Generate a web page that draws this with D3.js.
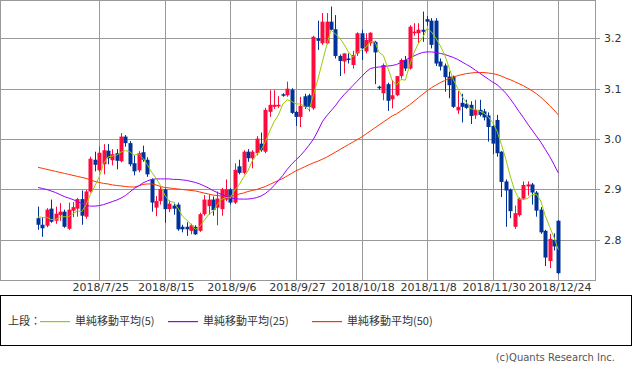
<!DOCTYPE html>
<html>
<head>
<meta charset="utf-8">
<script src="https://cdn.jsdelivr.net/npm/d3@7"></script>
<style>
  body { margin: 0; background: #fff; }
  text { font-family: "DejaVu Sans", "Noto Sans CJK JP", sans-serif; }
</style>
</head>
<body>
<svg id="chart" width="633" height="370"></svg>
<script>
// trading days shown (Jul 5 - Dec 24, 2018)
const julDays = [5,6,9,10,11,12,13,16,17,18,19,20,23,24,25,26,27,30,31];
const augDays = [1,2,3,6,7,8,9,10,13,14,15,16,17,20,21,22,23,24,27,28,29,30,31];
const sepDays = [4,5,6,7,10,11,12,13,14,17,18,19,20,21,24,25,26,27,28];
const octDays = [1,2,3,4,5,8,9,10,11,12,15,16,17,18,19,22,23,24,25,26,29,30,31];
const novDays = [1,2,5,6,7,8,9,12,13,14,15,16,19,20,21,23,26,27,28,29,30];
const decDays = [3,4,6,7,10,11,12,13,14,17,18,19,20,21,24];

const tickLabels = ["2018/7/25","2018/8/15","2018/9/6","2018/9/27","2018/10/18","2018/11/8","2018/11/30","2018/12/24"];
const yTicks = [2.8, 2.9, 3.0, 3.1, 3.2];

const open = [
  2.843,2.830,2.828,2.862,2.838,2.849,2.856,2.822,2.858,2.862,2.881,2.846,2.896,2.959,2.938,2.950,2.977,2.958,2.972,2.956,
  3.005,2.992,2.952,2.938,2.974,2.959,2.920,2.864,2.877,2.900,2.861,2.868,2.870,2.826,2.826,2.818,2.826,2.818,2.851,2.867,
  2.880,2.864,2.861,2.880,2.900,2.874,2.946,2.933,2.975,2.962,2.972,2.991,2.975,3.054,3.064,3.065,3.089,3.087,3.098,3.054,
  3.044,3.085,3.087,3.061,3.200,3.190,3.190,3.233,3.218,3.165,3.154,3.160,3.147,3.170,3.210,3.174,3.190,3.193,3.104,3.091,
  3.109,3.079,3.087,3.125,3.157,3.140,3.210,3.210,3.217,3.238,3.235,3.235,3.154,3.146,3.124,3.124,3.057,3.072,3.070,3.068,
  3.047,3.058,3.055,3.047,3.026,3.038,2.975,2.916,2.900,2.826,2.849,2.882,2.906,2.910,2.894,2.860,2.818,2.758,2.800,2.838];
const high = [
  2.866,2.845,2.863,2.880,2.866,2.873,2.860,2.874,2.875,2.883,2.898,2.899,2.965,2.975,2.985,2.990,2.990,2.980,2.980,3.012,
  3.008,2.996,2.968,2.976,2.987,2.964,2.922,2.887,2.905,2.902,2.878,2.874,2.874,2.830,2.835,2.832,2.829,2.854,2.889,2.889,
  2.886,2.896,2.903,2.920,2.903,2.952,2.959,2.978,2.980,2.978,3.006,3.013,3.062,3.097,3.097,3.085,3.091,3.114,3.101,3.056,
  3.084,3.090,3.090,3.205,3.235,3.250,3.250,3.263,3.246,3.168,3.170,3.170,3.175,3.212,3.217,3.210,3.212,3.195,3.106,3.150,
  3.112,3.117,3.125,3.160,3.165,3.226,3.230,3.230,3.253,3.244,3.240,3.240,3.160,3.150,3.134,3.126,3.095,3.090,3.078,3.075,
  3.078,3.078,3.060,3.053,3.030,3.048,2.976,2.920,2.902,2.868,2.884,2.916,2.916,2.913,2.897,2.865,2.820,2.812,2.813,2.839];
const low = [
  2.820,2.806,2.825,2.834,2.832,2.838,2.824,2.820,2.845,2.846,2.830,2.842,2.894,2.936,2.935,2.930,2.950,2.948,2.940,2.954,
  2.985,2.946,2.928,2.934,2.955,2.925,2.856,2.847,2.870,2.834,2.855,2.850,2.818,2.815,2.808,2.811,2.810,2.816,2.848,2.850,
  2.848,2.829,2.848,2.877,2.870,2.871,2.930,2.930,2.955,2.942,2.968,2.975,2.972,3.044,3.060,3.062,3.084,3.084,3.050,3.026,
  3.024,3.060,3.055,3.058,3.177,3.187,3.188,3.215,3.160,3.125,3.130,3.150,3.140,3.165,3.157,3.170,3.185,3.109,3.098,3.077,
  3.056,3.061,3.085,3.120,3.135,3.138,3.205,3.190,3.193,3.225,3.180,3.145,3.136,3.094,3.081,3.062,3.050,3.033,3.060,3.030,
  3.040,3.045,3.037,2.995,2.970,2.965,2.885,2.826,2.843,2.822,2.846,2.880,2.888,2.870,2.846,2.812,2.748,2.744,2.779,2.732];
const close = [
  2.830,2.823,2.860,2.836,2.852,2.856,2.826,2.860,2.865,2.881,2.848,2.896,2.961,2.949,2.973,2.978,2.962,2.970,2.957,3.005,
  2.992,2.950,2.936,2.972,2.959,2.930,2.874,2.877,2.901,2.861,2.872,2.862,2.821,2.821,2.821,2.829,2.811,2.851,2.880,2.880,
  2.859,2.882,2.900,2.900,2.874,2.939,2.933,2.975,2.962,2.975,3.001,2.978,3.058,3.068,3.068,3.068,3.086,3.100,3.052,3.044,
  3.066,3.064,3.064,3.203,3.195,3.233,3.233,3.217,3.165,3.155,3.170,3.157,3.167,3.210,3.180,3.197,3.211,3.172,3.101,3.147,
  3.076,3.087,3.125,3.157,3.140,3.223,3.213,3.217,3.213,3.233,3.187,3.150,3.144,3.123,3.107,3.064,3.064,3.064,3.062,3.046,
  3.058,3.048,3.043,3.024,2.991,2.972,2.915,2.898,2.857,2.853,2.882,2.909,2.910,2.894,2.858,2.815,2.765,2.802,2.787,2.734];
// last four closes before the window, needed for the 5-day average
const prevCloses = [2.829, 2.860, 2.856, 2.854];

const ma25 = [
  2.904,2.902,2.900,2.897,2.894,2.890,2.886,2.883,2.880,2.876,2.872,2.868,2.867,2.867,2.868,2.870,2.873,2.876,2.879,2.883,
  2.888,2.895,2.902,2.907,2.913,2.917,2.920,2.921,2.921,2.921,2.921,2.920,2.920,2.919,2.918,2.916,2.914,2.911,2.907,2.903,
  2.898,2.894,2.890,2.886,2.883,2.882,2.881,2.881,2.881,2.882,2.884,2.887,2.892,2.899,2.908,2.918,2.928,2.940,2.950,2.959,
  2.967,2.977,2.988,3.000,3.016,3.034,3.046,3.056,3.066,3.078,3.088,3.097,3.106,3.115,3.124,3.133,3.140,3.142,3.143,3.144,
  3.145,3.146,3.148,3.152,3.157,3.161,3.165,3.169,3.172,3.173,3.173,3.172,3.170,3.168,3.165,3.162,3.158,3.153,3.148,3.143,
  3.137,3.131,3.125,3.119,3.113,3.108,3.100,3.091,3.080,3.068,3.055,3.043,3.030,3.018,3.006,2.994,2.980,2.966,2.950,2.933];
const ma50 = [
  2.944,2.942,2.940,2.938,2.936,2.934,2.932,2.930,2.928,2.926,2.924,2.922,2.919,2.916,2.914,2.912,2.911,2.909,2.908,2.907,
  2.906,2.905,2.905,2.907,2.910,2.911,2.911,2.909,2.906,2.904,2.903,2.902,2.901,2.900,2.899,2.898,2.897,2.895,2.893,2.891,
  2.889,2.888,2.887,2.887,2.887,2.888,2.891,2.893,2.896,2.898,2.900,2.903,2.906,2.910,2.914,2.918,2.922,2.927,2.932,2.937,
  2.941,2.945,2.949,2.953,2.956,2.960,2.964,2.969,2.974,2.979,2.984,2.989,2.994,2.999,3.004,3.010,3.016,3.022,3.028,3.034,
  3.040,3.046,3.050,3.056,3.062,3.068,3.075,3.082,3.089,3.096,3.102,3.107,3.112,3.116,3.120,3.123,3.126,3.128,3.130,3.131,
  3.132,3.132,3.132,3.131,3.130,3.128,3.125,3.121,3.118,3.114,3.110,3.106,3.101,3.096,3.090,3.083,3.075,3.067,3.058,3.048];

const upColor = "#ff0a3c", downColor = "#003399";
const gridColor = "#999999";
const ma5Color = "#99cc00", ma25Color = "#9900ff", ma50Color = "#ff3300";

const dates = [].concat(
  julDays.map(d => "2018/7/" + d), augDays.map(d => "2018/8/" + d),
  sepDays.map(d => "2018/9/" + d), octDays.map(d => "2018/10/" + d),
  novDays.map(d => "2018/11/" + d), decDays.map(d => "2018/12/" + d));

const bars = dates.map((d, i) => ({date: d, i, o: open[i], h: high[i], l: low[i], c: close[i]}));
const allClose = prevCloses.concat(close);
const ma5 = close.map((c, i) => d3.mean(allClose.slice(i, i + 5)));

const plotW = 595, plotH = 280;
const x = d3.scaleLinear().domain([-8.7, 127.4]).range([0, plotW]);
const y = d3.scaleLinear().domain([2.7204, 3.276]).range([plotH, 0]);

const svg = d3.select("#chart");
svg.append("rect").attr("width", 633).attr("height", 370).attr("fill", "#fff");

const g = svg.append("g");

// grid
g.selectAll("line.hgrid").data(yTicks).join("line")
  .attr("x1", 0).attr("x2", plotW + 5)
  .attr("y1", d => Math.round(y(d)) + 0.5).attr("y2", d => Math.round(y(d)) + 0.5)
  .attr("stroke", gridColor);

const tickIdx = tickLabels.map(t => dates.indexOf(t));
g.selectAll("line.vgrid").data(tickIdx).join("line")
  .attr("x1", d => Math.round(x(d)) + 0.5).attr("x2", d => Math.round(x(d)) + 0.5)
  .attr("y1", 0).attr("y2", plotH)
  .attr("stroke", gridColor);

g.append("rect").attr("x", 0.5).attr("y", 0.5).attr("width", plotW).attr("height", plotH)
  .attr("fill", "none").attr("stroke", gridColor);

// candles
const cw = 4;
const candle = g.append("g").selectAll("g").data(bars).join("g")
  .attr("fill", d => d.c >= d.o ? upColor : downColor)
  .attr("stroke", d => d.c >= d.o ? upColor : downColor);
candle.append("line")
  .attr("x1", d => Math.round(x(d.i)) + 0.5).attr("x2", d => Math.round(x(d.i)) + 0.5)
  .attr("y1", d => y(d.h)).attr("y2", d => y(d.l))
  .attr("stroke-width", 1);
candle.append("rect")
  .attr("x", d => Math.round(x(d.i)) - 1.5)
  .attr("y", d => y(Math.max(d.o, d.c)))
  .attr("width", cw)
  .attr("height", d => Math.max(1, Math.abs(y(d.o) - y(d.c))))
  .attr("stroke", "none");

// moving averages
const maLine = d3.line().x((d, i) => x(i)).y(d => y(d));
const maSeries = [
  {values: ma50, color: ma50Color},
  {values: ma25, color: ma25Color},
  {values: ma5, color: ma5Color}
];
g.selectAll("path.ma").data(maSeries).join("path")
  .attr("d", d => maLine(d.values))
  .attr("fill", "none").style("stroke", d => d.color).attr("stroke-width", 1);

// axis labels
svg.selectAll("text.ylab").data(yTicks).join("text")
  .attr("x", 604).attr("y", d => y(d) + 4)
  .attr("font-size", 11).attr("fill", "#333")
  .text(d => d3.format(".1f")(d));

svg.selectAll("text.xlab").data(tickLabels).join("text")
  .attr("x", (d, k) => x(tickIdx[k]) + 1.5).attr("y", 291)
  .attr("text-anchor", "middle").attr("font-size", 11).attr("fill", "#333")
  .text(d => d);

// legend
const leg = svg.append("g");
leg.append("rect").attr("x", 0.5).attr("y", 295.5).attr("width", 631).attr("height", 50)
  .attr("fill", "none").attr("stroke", "#000");
leg.append("text").attr("x", 8).attr("y", 325).attr("font-size", 11).attr("fill", "#333")
  .style("font-family", "'Noto Sans CJK JP'").text("上段：");
const legendItems = [
  {label: "単純移動平均(5)", color: ma5Color, x0: 40},
  {label: "単純移動平均(25)", color: ma25Color, x0: 168},
  {label: "単純移動平均(50)", color: ma50Color, x0: 312}
];
legendItems.forEach(item => {
  leg.append("rect")
    .attr("x", item.x0).attr("y", 321).attr("width", 30).attr("height", 1.2)
    .style("fill", item.color);
  leg.append("text").attr("x", item.x0 + 35).attr("y", 325)
    .attr("font-size", 11).attr("fill", "#333")
    .style("font-family", "'Noto Sans CJK JP'").text(item.label);
});

svg.append("text").attr("x", 615).attr("y", 361).attr("text-anchor", "end")
  .attr("font-size", 10).attr("fill", "#555").text("(c)Quants Research Inc.");
</script>
</body>
</html>
